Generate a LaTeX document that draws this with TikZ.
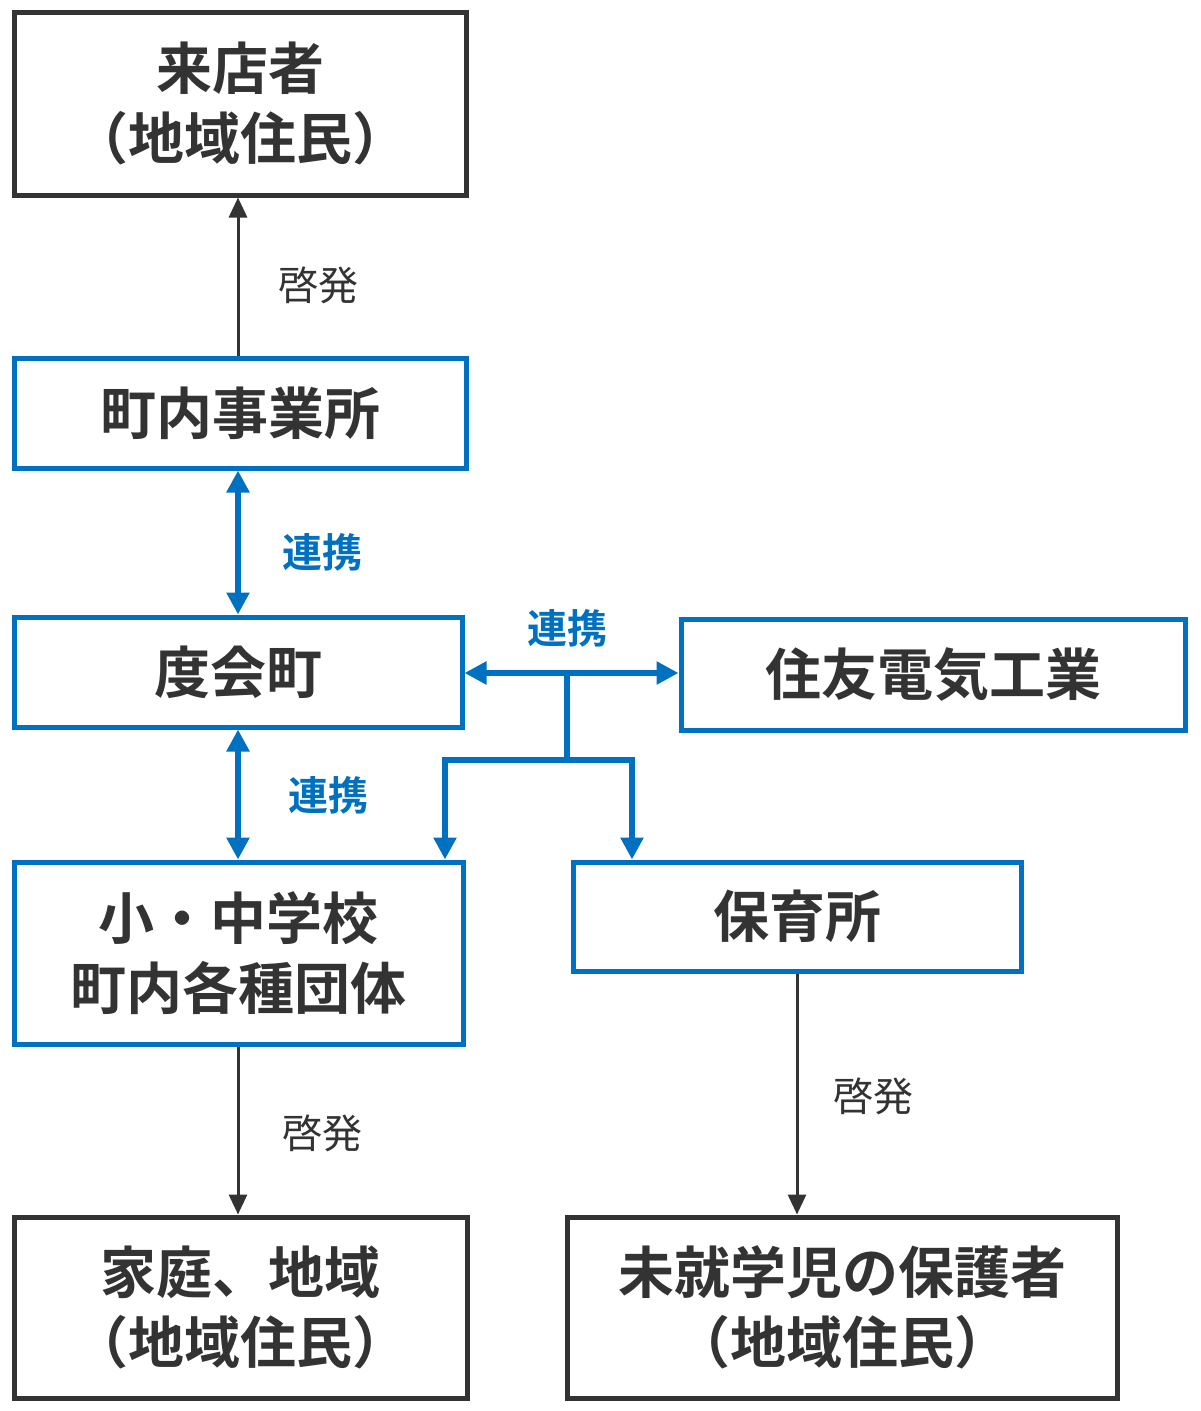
\documentclass[tikz,border=0pt]{standalone}
\usepackage{fontspec}
\setmainfont{Noto Sans CJK JP}
\newfontfamily\jpb{Noto Sans CJK JP Bold}
\usetikzlibrary{arrows.meta}
\definecolor{bl}{HTML}{0070C0}
\definecolor{dk}{HTML}{333333}
\begin{document}
\begin{tikzpicture}[x=1pt,y=-1pt,
 dbox/.style={draw=dk,line width=5pt,fill=white,text=dk,align=center,font=\jpb\fontsize{56}{70}\selectfont,inner sep=0pt},
 bbox/.style={draw=bl,line width=5pt,fill=white,text=dk,align=center,font=\jpb\fontsize{56}{70}\selectfont,inner sep=0pt},
 dar/.style={draw=dk,line width=3pt,-{Triangle[length=20pt,width=18pt]}},
 bar/.style={draw=bl,line width=6pt},
 dbl/.style={{Triangle[length=22pt,width=22pt]}-{Triangle[length=22pt,width=22pt]}},
 sgl/.style={-{Triangle[length=22pt,width=22pt]}},
 kl/.style={text=dk,font=\fontsize{40}{46}\selectfont},
 rl/.style={text=bl,font=\jpb\fontsize{40}{46}\selectfont}]
\useasboundingbox (0,0) rectangle (1200,1411);
\node[dbox,minimum width=452pt,minimum height=183pt] (a) at (240,103.5) {来店者\\（地域住民）};
\node[bbox,minimum width=452pt,minimum height=110pt] (b) at (240,413) {町内事業所};
\node[bbox,minimum width=448pt,minimum height=110pt] (c) at (238,672) {度会町};
\node[bbox,minimum width=504pt,minimum height=111pt] (d) at (933,674.5) {住友電気工業};
\node[bbox,minimum width=449pt,minimum height=182pt] (e) at (238.5,953) {小・中学校\\町内各種団体};
\node[bbox,minimum width=448pt,minimum height=109pt] (f) at (797,916.5) {保育所};
\node[dbox,minimum width=453pt,minimum height=181pt] (g) at (240.5,1307.5) {家庭、地域\\（地域住民）};
\node[dbox,minimum width=550pt,minimum height=181pt] (h) at (842,1307.5) {未就学児の保護者\\（地域住民）};
\draw[dar] (b.north -| 238,0) -- (a.south -| 238,0);
\node[kl] (l1) at (318,285) {啓発};
\draw[bar,dbl] (b.south -| 238,0) -- (c.north -| 238,0);
\node[rl] (l2) at (322,552) {連携};
\draw[bar,dbl] (c.south -| 238,0) -- (e.north -| 238,0);
\node[rl] (l3) at (328,795) {連携};
\draw[bar,dbl] (c.east |- 0,673) -- (d.west |- 0,673);
\node[rl] (l4) at (567,628) {連携};
\coordinate (j) at (567,673);
\coordinate (k) at (567,760);
\draw[bar] (j) -- (k);
\draw[bar,sgl] (k) -| (e.north -| 445,0);
\draw[bar,sgl] (k) -| (f.north -| 632,0);
\draw[dar] (e.south -| 238,0) -- (g.north -| 238,0);
\node[kl] (l5) at (322,1133) {啓発};
\draw[dar] (f.south -| 797,0) -- (h.north -| 797,0);
\node[kl] (l6) at (873,1096) {啓発};
\end{tikzpicture}
\end{document}
